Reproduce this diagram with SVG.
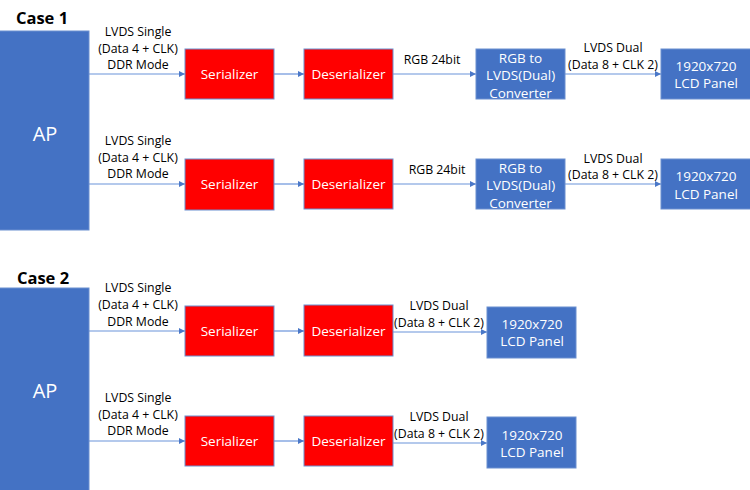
<svg xmlns="http://www.w3.org/2000/svg" width="750" height="490" viewBox="0 0 750 490">
<defs>
<marker id="ah" viewBox="0 0 6 6" refX="6" refY="3" markerWidth="6" markerHeight="6" markerUnits="userSpaceOnUse" orient="auto">
<path d="M0,0 L6,3 L0,6 z" fill="#4A78C8"/>
</marker>
<style>
text{font-family:"Open Sans","Noto Sans","Liberation Sans",sans-serif;text-anchor:middle;dominant-baseline:central}
.blue{fill:#4472C4;stroke:#6A8FD0;stroke-width:1}
.red{fill:#FF0000;stroke:#6A8FD0;stroke-width:1}
.bt{fill:#fff;font-size:13.5px}
.ap{fill:#fff;font-size:20px}
.lbl{fill:#000;font-size:12.3px}
.case{fill:#000;font-size:16.5px;font-weight:bold}
.conn line{stroke:#6A93DA;stroke-width:1.2;marker-end:url(#ah)}
</style>
</defs>
<rect width="750" height="490" fill="#fff"/>
<text class="case" x="42" y="17">Case 1</text>
<text class="case" x="43" y="277">Case 2</text>

<g class="conn" id="connectors">
<line x1="89" y1="74" x2="185" y2="74"/>
<line x1="274" y1="74" x2="304" y2="74"/>
<line x1="393" y1="74" x2="476" y2="74"/>
<line x1="565" y1="74" x2="661" y2="74"/>
<line x1="89" y1="184" x2="185" y2="184"/>
<line x1="274" y1="184" x2="304" y2="184"/>
<line x1="393" y1="184" x2="476" y2="184"/>
<line x1="565" y1="184" x2="661" y2="184"/>
<line x1="89" y1="331" x2="185" y2="331"/>
<line x1="274" y1="331" x2="304" y2="331"/>
<line x1="393" y1="332" x2="487" y2="332"/>
<line x1="89" y1="441" x2="185" y2="441"/>
<line x1="274" y1="441" x2="304" y2="441"/>
<line x1="393" y1="443" x2="487" y2="443"/>
</g>

<g id="labels">
<text class="lbl" x="138" y="31">LVDS Single</text>
<text class="lbl" x="138" y="48">(Data 4 + CLK)</text>
<text class="lbl" x="138" y="64">DDR Mode</text>
<text class="lbl" x="138" y="140">LVDS Single</text>
<text class="lbl" x="138" y="157">(Data 4 + CLK)</text>
<text class="lbl" x="138" y="173">DDR Mode</text>
<text class="lbl" x="432" y="59">RGB 24bit</text>
<text class="lbl" x="437" y="169">RGB 24bit</text>
<text class="lbl" x="613" y="47">LVDS Dual</text>
<text class="lbl" x="613" y="64">(Data 8 + CLK 2)</text>
<text class="lbl" x="613" y="158">LVDS Dual</text>
<text class="lbl" x="613" y="174">(Data 8 + CLK 2)</text>
<text class="lbl" x="138" y="287">LVDS Single</text>
<text class="lbl" x="138" y="304">(Data 4 + CLK)</text>
<text class="lbl" x="138" y="321">DDR Mode</text>
<text class="lbl" x="138" y="397">LVDS Single</text>
<text class="lbl" x="138" y="414">(Data 4 + CLK)</text>
<text class="lbl" x="138" y="430">DDR Mode</text>
<text class="lbl" x="439" y="305">LVDS Dual</text>
<text class="lbl" x="439" y="322">(Data 8 + CLK 2)</text>
<text class="lbl" x="439" y="416">LVDS Dual</text>
<text class="lbl" x="439" y="433">(Data 8 + CLK 2)</text>
</g>

<g id="ap1"><rect class="blue" x="-1" y="31" width="90" height="199"/><text class="ap" x="45" y="133">AP</text></g>
<g id="ser1"><rect class="red" x="185" y="49" width="89" height="50"/><text class="bt" x="229.5" y="74">Serializer</text></g>
<g id="des1"><rect class="red" x="304" y="49" width="89" height="50"/><text class="bt" x="348.5" y="74">Deserializer</text></g>
<g id="conv1"><rect class="blue" x="476" y="49" width="89" height="50"/><text class="bt" x="520.5" y="57.5">RGB to</text><text class="bt" x="520.5" y="75">LVDS(Dual)</text><text class="bt" x="520.5" y="92.5">Converter</text></g>
<g id="lcd1"><rect class="blue" x="661" y="49" width="90" height="50"/><text class="bt" x="706" y="65.5">1920x720</text><text class="bt" x="706" y="83">LCD Panel</text></g>

<g id="ser2"><rect class="red" x="185" y="159" width="89" height="51"/><text class="bt" x="229.5" y="184">Serializer</text></g>
<g id="des2"><rect class="red" x="304" y="159" width="89" height="50"/><text class="bt" x="348.5" y="184">Deserializer</text></g>
<g id="conv2"><rect class="blue" x="476" y="159" width="89" height="50"/><text class="bt" x="520.5" y="167.5">RGB to</text><text class="bt" x="520.5" y="185">LVDS(Dual)</text><text class="bt" x="520.5" y="202.5">Converter</text></g>
<g id="lcd2"><rect class="blue" x="661" y="159" width="90" height="50"/><text class="bt" x="706" y="176">1920x720</text><text class="bt" x="706" y="193.5">LCD Panel</text></g>

<g id="ap2"><rect class="blue" x="-1" y="288" width="90" height="203"/><text class="ap" x="45" y="390">AP</text></g>
<g id="ser3"><rect class="red" x="185" y="306" width="89" height="50"/><text class="bt" x="229.5" y="331">Serializer</text></g>
<g id="des3"><rect class="red" x="304" y="305" width="89" height="51"/><text class="bt" x="348.5" y="331">Deserializer</text></g>
<g id="lcd3"><rect class="blue" x="487" y="307" width="89" height="51"/><text class="bt" x="532" y="323.5">1920x720</text><text class="bt" x="532" y="341">LCD Panel</text></g>

<g id="ser4"><rect class="red" x="185" y="416" width="89" height="50"/><text class="bt" x="229.5" y="441">Serializer</text></g>
<g id="des4"><rect class="red" x="304" y="416" width="89" height="50"/><text class="bt" x="348.5" y="441">Deserializer</text></g>
<g id="lcd4"><rect class="blue" x="487" y="417" width="89" height="51"/><text class="bt" x="532" y="434.5">1920x720</text><text class="bt" x="532" y="452">LCD Panel</text></g>
</svg>
